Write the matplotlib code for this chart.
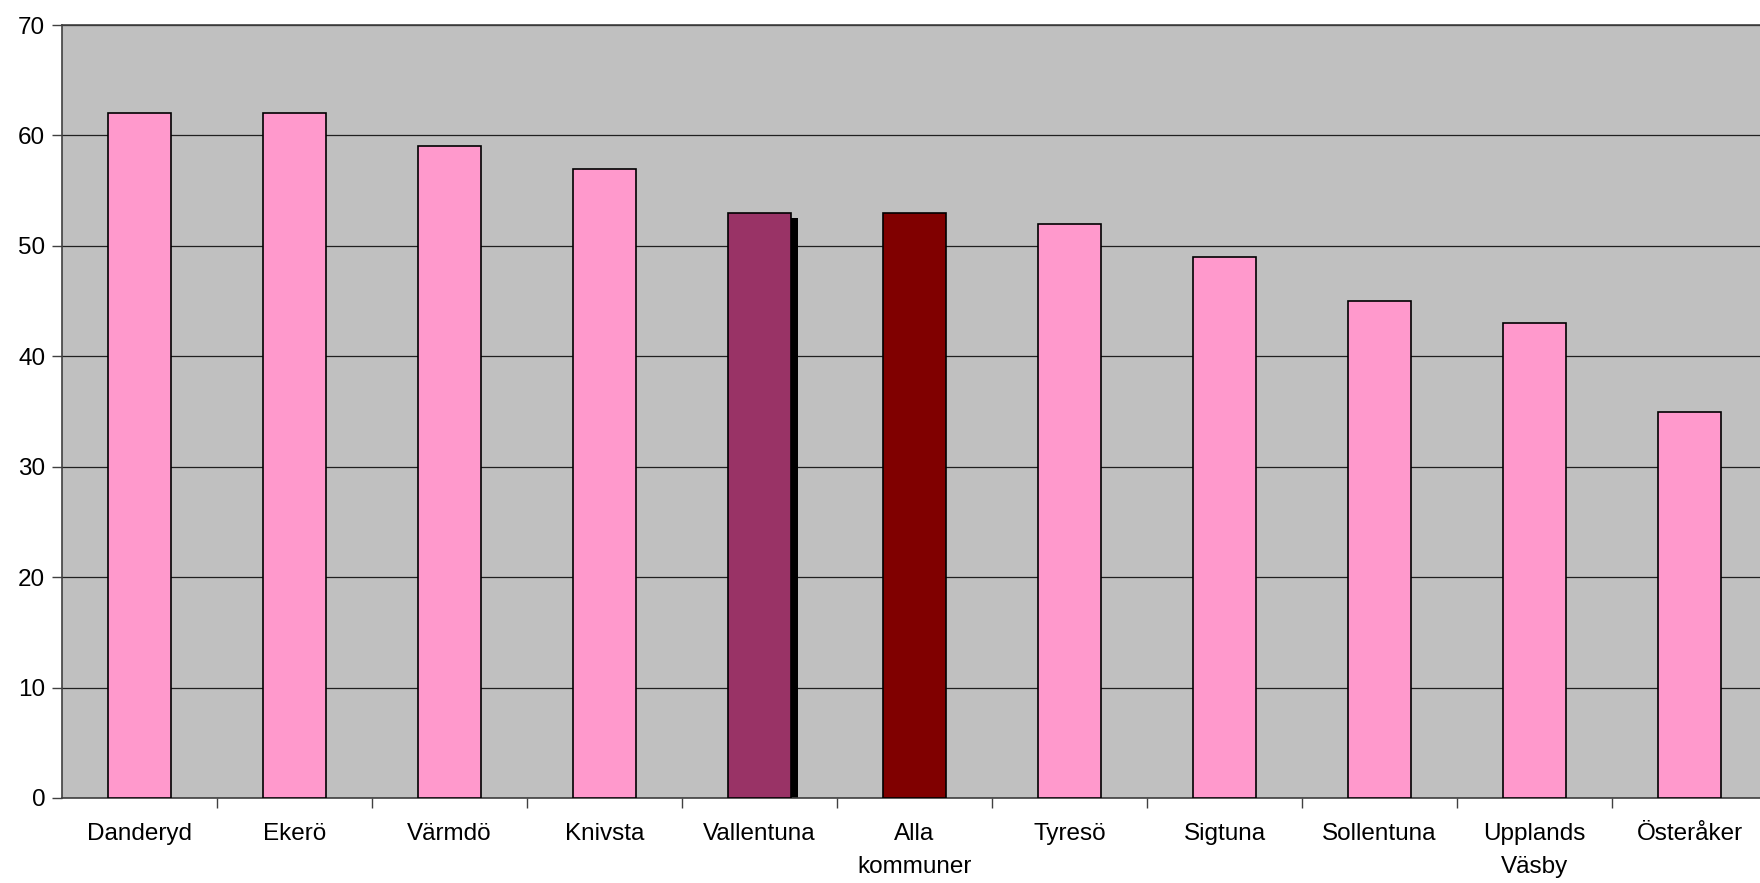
import matplotlib
matplotlib.use("Agg")
import matplotlib.pyplot as plt
import matplotlib.transforms as mtransforms
from matplotlib.ticker import FixedLocator

categories = ["Danderyd", "Ekerö", "Värmdö", "Knivsta", "Vallentuna", "Alla\nkommuner",
              "Tyresö", "Sigtuna", "Sollentuna", "Upplands\nVäsby", "Österåker"]
values = [62, 62, 59, 57, 53, 53, 52, 49, 45, 43, 35]
colors = ["#FF99CC", "#FF99CC", "#FF99CC", "#FF99CC", "#993366", "#800000",
          "#FF99CC", "#FF99CC", "#FF99CC", "#FF99CC", "#FF99CC"]
shadow_index = 4
yticks = [0, 10, 20, 30, 40, 50, 60, 70]

plt.rcParams['font.family'] = ['Liberation Sans', 'DejaVu Sans']

fig = plt.figure(figsize=(17.6, 8.83), dpi=100)
ax = fig.add_axes([62/1760, 85/883, 1705/1760, 773/883])
ax.set_facecolor("#C0C0C0")

x = list(range(len(categories)))
width = 0.41

# shadow for highlighted bar
shadow = ax.bar([x[shadow_index]], [values[shadow_index]], width=width, color="black",
                edgecolor="black", linewidth=0, zorder=2)
off = mtransforms.ScaledTranslation(7/100, -5/100, fig.dpi_scale_trans)
for p in shadow:
    p.set_transform(ax.transData + off)
    p.set_clip_path(ax.patch)

ax.bar(x, values, width=width, color=colors, edgecolor="black", linewidth=1.2, zorder=3)

ax.set_xlim(-0.5, len(categories) - 0.5)
ax.set_ylim(0, 70)
ax.set_yticks(yticks)
ax.yaxis.grid(True, color="#202020", linewidth=0.9, zorder=1)
ax.set_axisbelow(True)

ax.xaxis.set_major_locator(FixedLocator([i + 0.5 for i in range(len(categories) - 1)]))
ax.xaxis.set_major_formatter(plt.NullFormatter())
ax.xaxis.set_minor_locator(FixedLocator(x))
ax.set_xticklabels(categories, minor=True)
ax.tick_params(axis="x", which="major", direction="out", length=7, width=1, color="#404040")
ax.tick_params(axis="x", which="minor", length=0, pad=18, labelsize=17.5)
ax.tick_params(axis="y", direction="out", length=7, width=1, color="#404040", labelsize=17.5, pad=5)

for lab in ax.get_xticklabels(minor=True):
    lab.set_linespacing(1.65)

ax.spines["right"].set_visible(False)
ax.spines["top"].set_color("#404040")
ax.spines["left"].set_color("#404040")
ax.spines["bottom"].set_color("#404040")
for s in ax.spines.values():
    s.set_linewidth(1.2)

fig.savefig("out.png", dpi=100)
